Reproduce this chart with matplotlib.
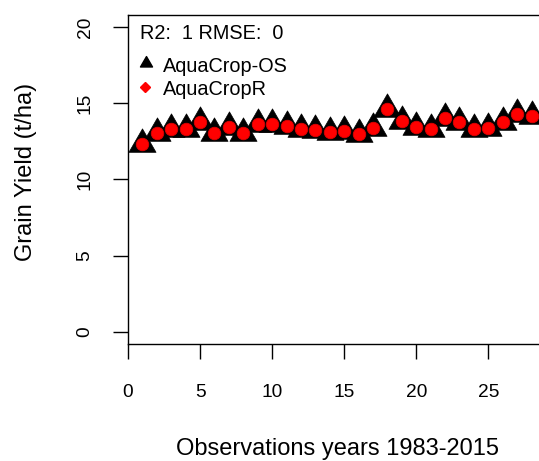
import matplotlib
matplotlib.use("Agg")
import matplotlib.pyplot as plt
import numpy as np
from matplotlib.path import Path

plt.rcParams['font.family'] = ['Liberation Sans', 'DejaVu Sans']

years = list(range(1, 29))
aquacrop_os = [12.35, 13.07, 13.33, 13.29, 13.79, 13.07, 13.44, 13.07, 13.66, 13.66,
               13.51, 13.29, 13.25, 13.14, 13.18, 13.00, 13.40, 14.65, 13.84, 13.44,
               13.33, 14.06, 13.79, 13.29, 13.40, 13.79, 14.28, 14.17]
aquacrop_r = list(aquacrop_os)
xticks = [0, 5, 10, 15, 20, 25]
yticks = [0, 5, 10, 15, 20]

W, H = 539, 461
fig = plt.figure(figsize=(W / 100, H / 100), dpi=100)
ax_left, ax_bottom = 128 / W, 117 / H
ax_w, ax_h = 490 / W, 329 / H
ax = fig.add_axes([ax_left, ax_bottom, ax_w, ax_h])

tri = Path([(0, 0.577), (-0.5, -0.289), (0.5, -0.289), (0, 0.577)],
           [Path.MOVETO, Path.LINETO, Path.LINETO, Path.CLOSEPOLY])

ax.plot(years, aquacrop_os, linestyle='none', marker=tri, markersize=22.5,
        color='black', markeredgewidth=0.5)
ax.plot(years, aquacrop_r, linestyle='none', marker='o', markersize=9,
        markerfacecolor='#ff0000', markeredgecolor='#e00000', markeredgewidth=0.6)

ax.set_xlim(0, 34)
ax.set_ylim(-0.8, 20.8)
ax.set_xticks(xticks)
ax.set_yticks(yticks)
ax.tick_params(axis='both', direction='out', length=10.8, width=1.0,
               labelsize=13.8, color='black')
ax.tick_params(axis='x', pad=18)
ax.tick_params(axis='y', pad=14)
for lab in ax.get_yticklabels():
    lab.set_rotation(90)
    lab.set_va('center')
for s in ax.spines.values():
    s.set_linewidth(1.0)

ax.set_xlabel('Observations years 1983-2015', fontsize=17)
ax.xaxis.label.set_va('center')
ax.xaxis.set_label_coords((337 - 128) / 490, (461 - 449 - 117) / 329)
ax.set_ylabel('Grain Yield (t/ha)', fontsize=17)
ax.yaxis.label.set_va('center')
ax.yaxis.set_label_coords((26 - 128) / 490, (461 - 172 - 117) / 329)

# legend (manual, R style, no frame)
def ac(x, y):
    return ((x - 128) / 490, (344 - y) / 329)

ax.text(*ac(139.5, 39.3), 'R2:  1 RMSE:  0', transform=ax.transAxes,
        fontsize=14.3, va='baseline', ha='left')
ax.plot(*ac(146, 62.7), transform=ax.transAxes, marker=tri, markersize=10,
        color='black', linestyle='none', clip_on=False)
ax.text(*ac(163.3, 71.7), 'AquaCrop-OS', transform=ax.transAxes,
        fontsize=14.3, va='baseline', ha='left')
ax.plot(*ac(145, 87.3), transform=ax.transAxes, marker='D', markersize=5,
        color='#ff0000', linestyle='none', clip_on=False)
ax.text(*ac(163.3, 95), 'AquaCropR', transform=ax.transAxes,
        fontsize=14.3, va='baseline', ha='left')

fig.savefig('out.png', dpi=100)
